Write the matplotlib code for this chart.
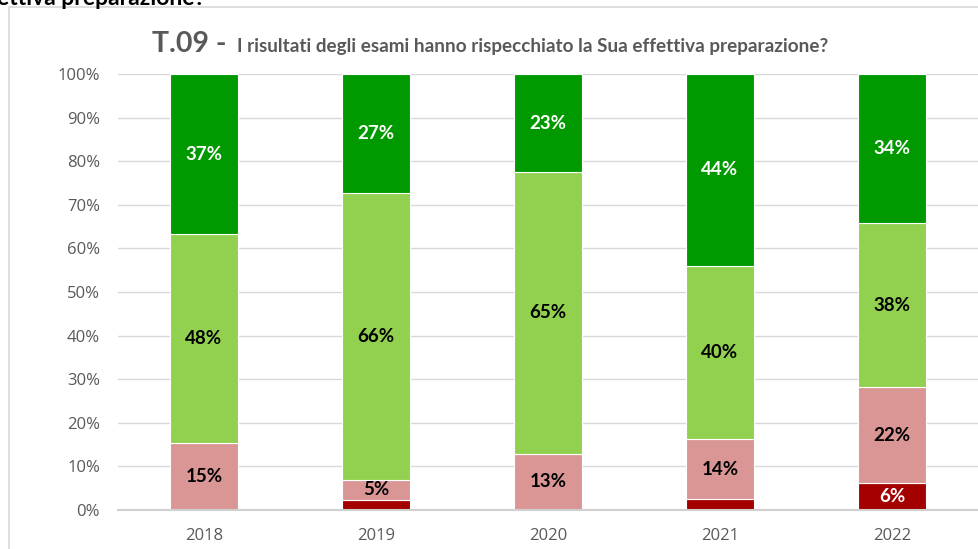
import matplotlib
matplotlib.use("Agg")
import matplotlib.pyplot as plt
from matplotlib.patches import Rectangle
import numpy as np

plt.rcParams['font.family'] = ['Open Sans', 'DejaVu Sans']
BOLD = ['Lato', 'DejaVu Sans']

years = ["2018", "2019", "2020", "2021", "2022"]
dark_red = [0.0, 2.3, 0.0, 2.5, 6.2]
pink = [15.4, 4.6, 12.9, 13.8, 22.0]
light_green = [47.9, 65.8, 64.6, 39.7, 37.6]
dark_green = [36.7, 27.3, 22.5, 44.0, 34.2]

lab_dark_red = ["", "", "", "", "6%"]
lab_pink = ["15%", "5%", "13%", "14%", "22%"]
lab_light_green = ["48%", "66%", "65%", "40%", "38%"]
lab_dark_green = ["37%", "27%", "23%", "44%", "34%"]

series = [
    (dark_red, lab_dark_red, "#A50000", "white"),
    (pink, lab_pink, "#DA9694", "black"),
    (light_green, lab_light_green, "#92D050", "black"),
    (dark_green, lab_dark_green, "#009A00", "white"),
]

W, H = 979, 549
fig = plt.figure(figsize=(W / 100, H / 100), dpi=100)

# outer frame
fig.patches.append(Rectangle((9 / W, -0.1), 1.2, 1 - 7 / H + 0.1,
                             transform=fig.transFigure, fill=False,
                             edgecolor="#d9d9d9", linewidth=1.2))

ax = fig.add_axes([118 / W, 1 - 510 / H, (978 - 118) / W, (510 - 74) / H])
x = np.arange(len(years))
bottom = np.zeros(len(years))
for vals, labs, col, tcol in series:
    vals = np.array(vals)
    ax.bar(x, vals, 0.4, bottom=bottom, color=col, edgecolor="white",
           linewidth=0.8, zorder=3)
    for xi, v, b, l in zip(x, vals, bottom, labs):
        if l:
            ax.text(xi, b + v / 2, l, ha="center", va="center", family=BOLD,
                    color=tcol, fontsize=13.5, fontweight="bold", zorder=4)
    bottom = bottom + vals

ax.set_xlim(-0.5, len(years) - 0.5)
ax.set_ylim(0, 100)
ax.set_yticks(np.arange(0, 101, 10))
ax.set_yticklabels([f"{v}%" for v in range(0, 101, 10)])
ax.set_xticks(x)
ax.set_xticklabels(years)
ax.tick_params(axis="both", length=0, labelsize=12, labelcolor="#595959")
ax.tick_params(axis="y", pad=13)
ax.tick_params(axis="x", pad=13)
ax.grid(axis="y", color="#d9d9d9", linewidth=1, zorder=0)
for s in ["top", "right", "left"]:
    ax.spines[s].set_visible(False)
ax.spines["bottom"].set_color("#d0d0d0")
ax.spines["bottom"].set_linewidth(1.5)
ax.spines["bottom"].set_zorder(5)

# titles
fig.text(152 / W, 1 - 52 / H, "T.09 -", ha="left", va="baseline", family=BOLD,
         fontsize=20.5, fontweight="bold", color="#595959")
fig.text(237 / W, 1 - 52 / H,
         "I risultati degli esami hanno rispecchiato la Sua effettiva preparazione?",
         ha="left", va="baseline", fontsize=13.6, fontweight="bold", family=BOLD,
         color="#595959")

# cropped text at very top
fig.text(-3 / W, 1 - 5 / H, "ettiva preparazione?", ha="left", va="baseline",
         family=BOLD, fontsize=16.5, fontweight="bold", color="black")

fig.savefig("out.png", dpi=100)
